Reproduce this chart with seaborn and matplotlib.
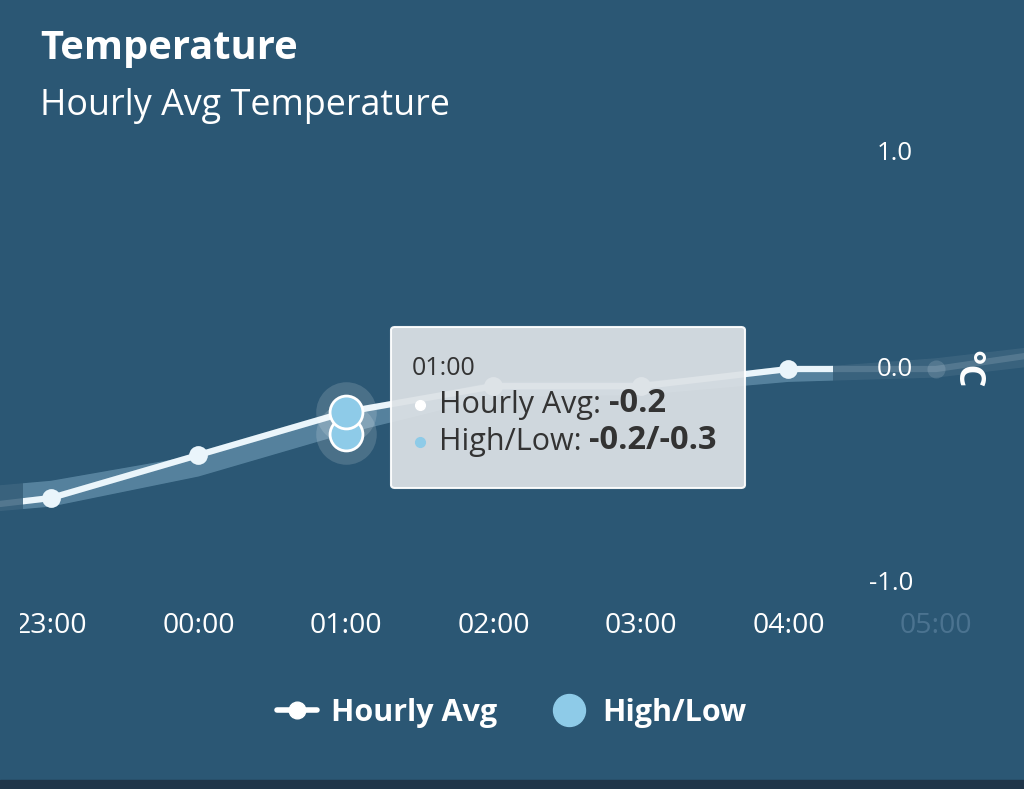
import numpy as np
import pandas as pd
import seaborn as sns
import matplotlib
matplotlib.use("Agg")
from matplotlib import pyplot as plt
from matplotlib.patches import Rectangle, FancyBboxPatch
from matplotlib.lines import Line2D
from matplotlib.text import Annotation
from matplotlib.transforms import Bbox, TransformedBbox, blended_transform_factory

# data (hourly avg temperature, high/low band)
hours = ['22:00', '23:00', '00:00', '01:00', '02:00', '03:00', '04:00', '05:00', '06:00']
hourly_avg = [-0.68, -0.6, -0.4, -0.2, -0.08, -0.08, 0.0, 0.0, 0.1]
high = [-0.58, -0.52, -0.4, -0.2, -0.06, -0.06, 0.0, 0.05, 0.13]
low = [-0.7, -0.64, -0.5, -0.3, -0.13, -0.12, -0.06, -0.04, 0.04]
tick_hours = ['23:00', '00:00', '01:00', '02:00', '03:00', '04:00', '05:00']
y_ticks = [1.0, 0.0, -1.0]
selected = '01:00'
window = (-0.19, 5.3)   # highlighted range (in hour index units)

pos = list(range(-1, len(hours) - 1))
df = pd.DataFrame({'hour': hours, 'x': pos, 'avg': hourly_avg, 'high': high, 'low': low})

BG = '#2b5774'
LINE = '#eaf5fb'
SKY = '#8ecbe8'
FONT = ['Open Sans', 'DejaVu Sans']

sns.set_style('white', rc={'axes.facecolor': BG, 'figure.facecolor': BG})
plt.rcParams['font.family'] = FONT

fig = plt.figure(figsize=(10.24, 7.89), dpi=100)
ax = fig.add_axes([0, (789 - 584) / 789, 1, 430 / 789])
ax.set_facecolor(BG)

# faded full series
ax.fill_between(df.x, df.low, df.high, color='#ffffff', alpha=0.07, lw=0)
sns.lineplot(data=df, x='x', y='avg', ax=ax, color=LINE, alpha=0.15, linewidth=4.5,
             marker='o', markersize=13, markeredgewidth=0)

# highlighted window
clip = Rectangle((window[0], -2), window[1] - window[0], 4, transform=ax.transData)
band = ax.fill_between(df.x, df.low, df.high, color='#8fc3e0', alpha=0.33, lw=0)
band.set_clip_path(clip)
sns.lineplot(data=df, x='x', y='avg', ax=ax, color=LINE, linewidth=4.5,
             marker='o', markersize=13.5, markeredgewidth=0)
ax.lines[-1].set_clip_path(clip)

# selected point high/low
sel = df[df.hour == selected]
ax.scatter(list(sel.x) * 2, [sel.high.iloc[0], sel.low.iloc[0]], s=1900, color='#ffffff',
           alpha=0.15, lw=0, zorder=5)
sns.scatterplot(x=list(sel.x) * 2, y=[sel.low.iloc[0], sel.high.iloc[0]], ax=ax, s=560,
                color=SKY, edgecolor='white', linewidth=2, zorder=6, legend=False)

ax.set_xlim(-51 / 147.5, (1024 - 51) / 147.5)
ax.set_ylim(-1.0, 1.0)
for s in ax.spines.values():
    s.set_visible(False)
ax.set_xlabel('')
ax.set_ylabel('')
ax.set_yticks([])
ax.set_xticks(range(len(tick_hours)))
ax.set_xticklabels(tick_hours, fontsize=20.5, color='white')
ax.tick_params(axis='x', length=0, pad=20)
ax.get_xticklabels()[-1].set_color('#4b7390')
clipbox = TransformedBbox(Bbox([[20 / 1024, 0], [1, 1]]), fig.transFigure)
for lbl in ax.get_xticklabels():
    lbl.set_clip_box(clipbox)
    lbl.set_clip_on(True)

trans = blended_transform_factory(ax.transAxes, ax.transData)
for v in y_ticks:
    ax.text(913 / 1024, v, f'{v:.1f}', transform=trans, ha='right', va='center',
            fontsize=18.5, color='white', zorder=7)
ax.text(966 / 1024, 0.0, '°C', transform=trans, ha='center', va='center', rotation=-90,
        fontsize=26, fontweight='bold', color='white', zorder=7)

# titles
fig.text(40 / 1024, 1 - 48 / 789, 'Temperature', fontsize=28.7, fontweight='bold',
         color='white', va='center')
fig.text(40 / 1024, 1 - 106 / 789, 'Hourly Avg Temperature', fontsize=25.8,
         color='white', va='center')

# tooltip
tip = FancyBboxPatch((391 / 1024, 1 - 488 / 789), 354 / 1024, 161 / 789,
                     boxstyle='round,pad=0,rounding_size=0.004', transform=fig.transFigure,
                     facecolor='#dde2e6', alpha=0.93, edgecolor='white', lw=1.5, zorder=10)
fig.add_artist(tip)
fig.text(412 / 1024, 1 - 368 / 789, selected, fontsize=18, color='#333333', va='center', zorder=11)
rows = [('Hourly Avg: ', f'{sel.avg.iloc[0]:.1f}', 'white', 405),
        ('High/Low: ', f'{sel.high.iloc[0]:.1f}/{sel.low.iloc[0]:.1f}', SKY, 442)]
for label, val, c, yy in rows:
    fig.add_artist(Line2D([420 / 1024], [1 - yy / 789], marker='o', markersize=7, color=c,
                          transform=fig.transFigure, zorder=11))
    t = fig.text(439 / 1024, 1 - yy / 789, label, fontsize=22, color='#333333',
                 va='center', zorder=11)
    ann = Annotation(val, xy=(1, 0), xycoords=t, va='bottom', ha='left', fontsize=23.5,
                     fontweight='bold', color='#333333', annotation_clip=False, zorder=11)
    fig.add_artist(ann)

# legend
handles = [Line2D([], [], color='white', lw=4, marker='o', markersize=12),
           Line2D([], [], color=SKY, ls='', marker='o', markersize=23)]
leg = fig.legend(handles, ['Hourly Avg', 'High/Low'], loc='center', ncol=2,
                 bbox_to_anchor=(0.5, 1 - 713 / 789), frameon=False, handlelength=1.3,
                 columnspacing=1.7, handletextpad=0.45,
                 prop={'family': FONT, 'weight': 'bold', 'size': 22})
for txt in leg.get_texts():
    txt.set_color('white')

fig.add_artist(Rectangle((0, 0), 1, 9 / 789, transform=fig.transFigure,
                         color='#1f3549', zorder=12))

fig.savefig('out.png', dpi=100, facecolor=BG)
